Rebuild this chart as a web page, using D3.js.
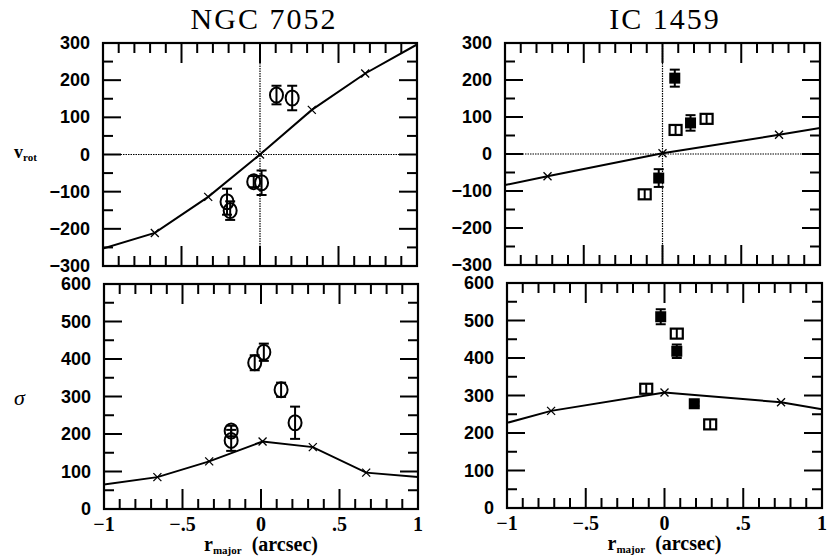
<!DOCTYPE html>
<html>
<head>
<meta charset="utf-8">
<script src="https://cdn.jsdelivr.net/npm/d3@7"></script>
<style>
  body { margin: 0; background: #fff; }
  svg { display: block; }
</style>
</head>
<body>
<div id="vis"></div>
<script>
// model curves (x markers on the line)
const ngcVrotModelX = [-1, -0.67, -0.33, 0, 0.33, 0.67, 1]
const ngcVrotModelY = [-253, -211, -114, 0, 120, 218, 296]
const ngcSigModelX = [-1, -0.66, -0.33, 0.01, 0.33, 0.67, 1]
const ngcSigModelY = [65, 85, 127, 180, 165, 97, 85]
const icVrotModelX = [-1, -0.73, 0, 0.74, 1]
const icVrotModelY = [-84, -60, 2, 52, 70]
const icSigModelX = [-1, -0.72, 0, 0.74, 1]
const icSigModelY = [227, 259, 308, 282, 263]

// NGC 7052 data (open circles)
const ngcVrotX = [-0.21, -0.19, -0.04, 0.01, 0.105, 0.205]
const ngcVrotY = [-127, -151, -73, -76, 160, 152]
const ngcVrotErr = [35, 25, 15, 33, 25, 33]
const ngcSigX = [-0.19, -0.19, -0.04, 0.018, 0.128, 0.217]
const ngcSigY = [208, 183, 390, 418, 318, 230]
const ngcSigErr = [14, 28, 20, 23, 19, 43]

// IC 1459 data (filled and open squares)
const icVrotFillX = [-0.024, 0.078, 0.178]
const icVrotFillY = [-65, 205, 84]
const icVrotFillErr = [24, 23, 21]
const icVrotOpenX = [-0.113, 0.083, 0.28]
const icVrotOpenY = [-109, 65, 95]
const icSigFillX = [-0.024, 0.078, 0.189]
const icSigFillY = [510, 418, 278]
const icSigFillErr = [20, 18, 6]
const icSigOpenX = [-0.116, 0.078, 0.29]
const icSigOpenY = [318, 465, 223]

const xTickVals = [-1, -0.5, 0, 0.5, 1]
const xTickText = ["\u22121", "\u2212.5", "0", ".5", "1"]

const svg = d3.select("#vis").append("svg")
    .attr("width", 829).attr("height", 559)

const zip = (xs, ys, es) => xs.map((x, i) => ({x: x, y: ys[i], e: es ? es[i] : 0}))

const panels = [
  {x0: 103, x1: 417, y0: 43, y1: 266, dom: [-300, 300], zero: true,
   model: zip(ngcVrotModelX, ngcVrotModelY),
   circles: zip(ngcVrotX, ngcVrotY, ngcVrotErr)},
  {x0: 104, x1: 418, y0: 284, y1: 509, dom: [0, 600], zero: false, xlab: true,
   model: zip(ngcSigModelX, ngcSigModelY),
   circles: zip(ngcSigX, ngcSigY, ngcSigErr)},
  {x0: 505, x1: 820, y0: 43, y1: 265, dom: [-300, 300], zero: true,
   model: zip(icVrotModelX, icVrotModelY),
   filled: zip(icVrotFillX, icVrotFillY, icVrotFillErr),
   open: zip(icVrotOpenX, icVrotOpenY)},
  {x0: 507, x1: 822, y0: 283, y1: 508, dom: [0, 600], zero: false, xlab: true,
   model: zip(icSigModelX, icSigModelY),
   filled: zip(icSigFillX, icSigFillY, icSigFillErr),
   open: zip(icSigOpenX, icSigOpenY)}
]

panels.forEach(function(p) {
  const x = d3.scaleLinear().domain([-1, 1]).range([p.x0, p.x1])
  const y = d3.scaleLinear().domain(p.dom).range([p.y1, p.y0])
  const g = svg.append("g")
  const clip = "clip" + p.x0 + p.y0
  g.append("clipPath").attr("id", clip).append("rect")
      .attr("x", p.x0).attr("y", p.y0).attr("width", p.x1 - p.x0).attr("height", p.y1 - p.y0)

  // ticks: x every 0.1 (long every 0.5), y every 50 (long every 100)
  const xt = d3.range(-10, 11).map(d => d / 10)
  xt.forEach(function(t) {
    const len = Math.abs(t * 2 - Math.round(t * 2)) < 1e-6 ? 20 : 10
    g.append("line").attr("x1", x(t)).attr("x2", x(t)).attr("y1", p.y1).attr("y2", p.y1 - len)
    g.append("line").attr("x1", x(t)).attr("x2", x(t)).attr("y1", p.y0).attr("y2", p.y0 + len)
  })
  d3.range(p.dom[0], p.dom[1] + 1, 50).forEach(function(t) {
    const len = t % 100 === 0 ? 18 : 10
    g.append("line").attr("y1", y(t)).attr("y2", y(t)).attr("x1", p.x0).attr("x2", p.x0 + len)
    g.append("line").attr("y1", y(t)).attr("y2", y(t)).attr("x1", p.x1).attr("x2", p.x1 - len)
  })
  g.selectAll("line").attr("stroke", "#000").attr("stroke-width", 2)

  // y tick labels
  g.selectAll(".ylab").data(d3.range(p.dom[0], p.dom[1] + 1, 100)).enter()
    .append("text")
      .attr("x", p.x0 - 13).attr("y", d => y(d)).attr("dy", "0.34em")
      .attr("text-anchor", "end")
      .style("font-family", "Liberation Sans, Arial, sans-serif")
      .style("font-weight", "bold").style("font-size", "18px")
      .text(d => d < 0 ? "\u2212" + (-d) : d)

  if (p.xlab) {
    g.selectAll(".xlab").data(xTickVals).enter()
      .append("text")
        .attr("x", d => x(d)).attr("y", p.y1 + 22)
        .attr("text-anchor", "middle")
        .style("font-family", "Liberation Serif, serif")
        .style("font-weight", "bold").style("font-size", "20px")
        .text((d, i) => xTickText[i])
    const xt2 = g.append("text")
        .attr("x", (p.x0 + p.x1) / 2).attr("y", p.y1 + 42)
        .attr("text-anchor", "middle")
        .style("font-family", "Liberation Serif, serif")
        .style("font-weight", "bold").style("font-size", "20px")
    xt2.append("tspan").text("r")
    xt2.append("tspan").attr("dy", 3).style("font-size", "11px").text("major")
    xt2.append("tspan").attr("dy", -3).text("\u00a0 (arcsec)")
  }

  // zero lines
  if (p.zero) {
    g.append("line").attr("x1", p.x0).attr("x2", p.x1).attr("y1", y(0)).attr("y2", y(0))
      .attr("stroke", "#000").attr("stroke-width", 1.2).attr("stroke-dasharray", "1.5,1")
    g.append("line").attr("x1", x(0)).attr("x2", x(0)).attr("y1", p.y0).attr("y2", p.y1)
      .attr("stroke", "#000").attr("stroke-width", 1.2).attr("stroke-dasharray", "1.5,1")
  }

  // frame
  g.append("rect").attr("x", p.x0).attr("y", p.y0)
      .attr("width", p.x1 - p.x0).attr("height", p.y1 - p.y0)
      .attr("fill", "none").attr("stroke", "#000").attr("stroke-width", 2.2)

  const inner = g.append("g").attr("clip-path", "url(#" + clip + ")")

  // model curve
  inner.append("path").datum(p.model)
      .attr("d", d3.line().x(d => x(d.x)).y(d => y(d.y)))
      .attr("fill", "none").attr("stroke", "#000").attr("stroke-width", 2)
  inner.selectAll(".mk").data(p.model.slice(1, -1)).enter()
    .append("path")
      .attr("d", d => { const cx = x(d.x), cy = y(d.y), s = 4
        return `M${cx - s},${cy - s}L${cx + s},${cy + s}M${cx - s},${cy + s}L${cx + s},${cy - s}` })
      .attr("stroke", "#000").attr("stroke-width", 1.3)

  // error bars
  const errs = (p.circles || []).concat(p.filled || [])
  const eb = inner.selectAll(".eb").data(errs).enter().append("g")
      .attr("stroke", "#000").attr("stroke-width", 2)
  eb.append("line").attr("x1", d => x(d.x)).attr("x2", d => x(d.x))
      .attr("y1", d => y(d.y - d.e)).attr("y2", d => y(d.y + d.e))
  eb.append("line").attr("x1", d => x(d.x) - 5).attr("x2", d => x(d.x) + 5)
      .attr("y1", d => y(d.y + d.e)).attr("y2", d => y(d.y + d.e))
  eb.append("line").attr("x1", d => x(d.x) - 5).attr("x2", d => x(d.x) + 5)
      .attr("y1", d => y(d.y - d.e)).attr("y2", d => y(d.y - d.e))

  if (p.circles) {
    inner.selectAll(".ci").data(p.circles).enter().append("ellipse")
        .attr("cx", d => x(d.x)).attr("cy", d => y(d.y))
        .attr("rx", 6.5).attr("ry", 7.5)
        .attr("fill", "none").attr("stroke", "#000").attr("stroke-width", 2)
  }
  if (p.filled) {
    inner.selectAll(".fs").data(p.filled).enter().append("rect")
        .attr("x", d => x(d.x) - 5.5).attr("y", d => y(d.y) - 5.5)
        .attr("width", 11).attr("height", 11).attr("fill", "#000")
  }
  if (p.open) {
    const os = inner.selectAll(".os").data(p.open).enter().append("g")
    os.append("rect")
        .attr("x", d => x(d.x) - 6).attr("y", d => y(d.y) - 5)
        .attr("width", 12).attr("height", 10)
        .attr("fill", "none").attr("stroke", "#000").attr("stroke-width", 2.2)
    os.append("line").attr("x1", d => x(d.x)).attr("x2", d => x(d.x))
        .attr("y1", d => y(d.y) - 5).attr("y2", d => y(d.y) + 5)
        .attr("stroke", "#000").attr("stroke-width", 2)
  }
})

// titles
const titles = [{t: "NGC 7052", x: 264}, {t: "IC 1459", x: 665}]
svg.selectAll(".title").data(titles).enter().append("text")
    .attr("x", d => d.x).attr("y", 29).attr("text-anchor", "middle")
    .style("font-family", "Liberation Serif, serif").style("font-size", "30px")
    .style("letter-spacing", "2px")
    .text(d => d.t)

// y axis titles
const vt = svg.append("text").attr("x", 14).attr("y", 158)
    .style("font-family", "Liberation Serif, serif").style("font-weight", "bold").style("font-size", "18px")
vt.append("tspan").text("v")
vt.append("tspan").attr("dy", 3).style("font-size", "11px").text("rot")
svg.append("text").attr("x", 14).attr("y", 405)
    .style("font-family", "Liberation Serif, serif").style("font-style", "italic").style("font-size", "22px")
    .text("\u03c3")
</script>
</body>
</html>
